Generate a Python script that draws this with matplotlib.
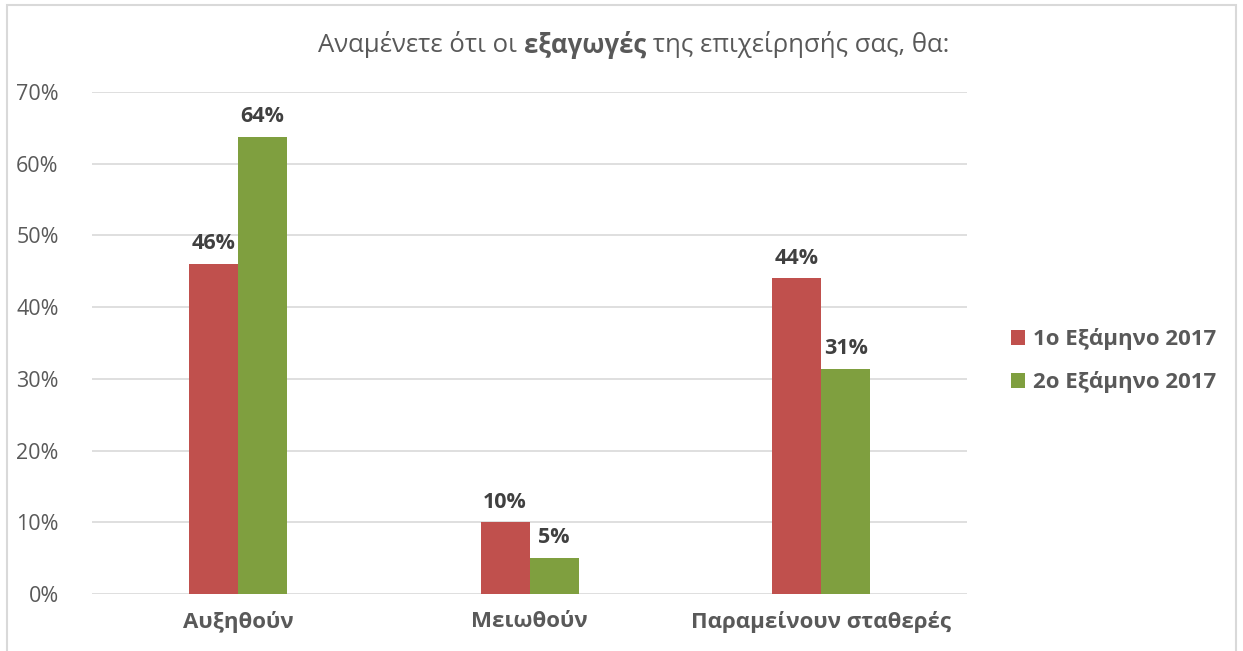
import numpy as np
import matplotlib
matplotlib.use('Agg')
import matplotlib.pyplot as plt
from matplotlib.patches import Rectangle

plt.rcParams['font.family'] = ['Open Sans', 'DejaVu Sans']

categories = ['Αυξηθούν', 'Μειωθούν', 'Παραμείνουν σταθερές']
series_names = ['1ο Εξάμηνο 2017', '2ο Εξάμηνο 2017']
first_half = [0.46, 0.10, 0.44]
second_half = [0.637, 0.05, 0.314]
first_labels = ['46%', '10%', '44%']
second_labels = ['64%', '5%', '31%']
yticks = [0, 0.1, 0.2, 0.3, 0.4, 0.5, 0.6, 0.7]
ytick_labels = ['0%', '10%', '20%', '30%', '40%', '50%', '60%', '70%']

red = '#C0504D'
green = '#7F9F3F'
text_grey = '#595959'
grid_grey = '#D9D9D9'

fig = plt.figure(figsize=(12.43, 6.51), dpi=100)
ax = fig.add_axes([0.074, 0.0876, 0.704, 0.7711])

x = np.arange(len(categories))
w = 0.168
b1 = ax.bar(x - w / 2, first_half, w, color=red, label=series_names[0], zorder=3)
b2 = ax.bar(x + w / 2, second_half, w, color=green, label=series_names[1], zorder=3)

ax.bar_label(b1, labels=first_labels, padding=7, fontsize=15.5, fontweight='bold', color='#404040')
ax.bar_label(b2, labels=second_labels, padding=7, fontsize=15.5, fontweight='bold', color='#404040')

ax.set_xlim(-0.5, 2.5)
ax.set_ylim(0, 0.7)
ax.set_yticks(yticks)
ax.set_yticklabels(ytick_labels, fontsize=15.5, color=text_grey)
ax.set_xticks(x)
ax.set_xticklabels(categories, fontsize=16, fontweight='bold', color=text_grey)
ax.tick_params(axis='both', length=0)
ax.tick_params(axis='x', pad=12)
ax.tick_params(axis='y', pad=24)
ax.grid(axis='y', color=grid_grey, linewidth=1.2, zorder=0)
for s in ax.spines.values():
    s.set_visible(False)

leg = fig.legend(handles=[b1, b2], loc='center left', bbox_to_anchor=(0.797, 0.446),
                 frameon=False, fontsize=16, handlelength=0.65, handleheight=0.65,
                 handletextpad=0.35, labelspacing=0.95)
for t in leg.get_texts():
    t.set_fontweight('bold')
    t.set_color(text_grey)

# title made of three pieces (middle word bold)
parts = [('Αναμένετε ότι οι ', 'normal'), ('εξαγωγές', 'bold'), (' της επιχείρησής σας, θα:', 'normal')]
renderer = fig.canvas.get_renderer()
pieces = []
total = 0
for txt, wt in parts:
    t = fig.text(0, 0.931, txt, fontsize=18.5, fontweight=wt, color=text_grey, va='center', ha='left')
    bb = t.get_window_extent(renderer)
    pieces.append((t, bb.width))
    total += bb.width
xpos = 634 - total / 2
for t, wd in pieces:
    t.set_x(xpos / fig.bbox.width)
    xpos += wd

fig.patches.append(Rectangle((7 / 1243, -0.01), 1229 / 1243, 1 - 5 / 651 + 0.01,
                             transform=fig.transFigure, fill=False,
                             edgecolor=grid_grey, linewidth=1.5))

fig.savefig('out.png', dpi=100)
